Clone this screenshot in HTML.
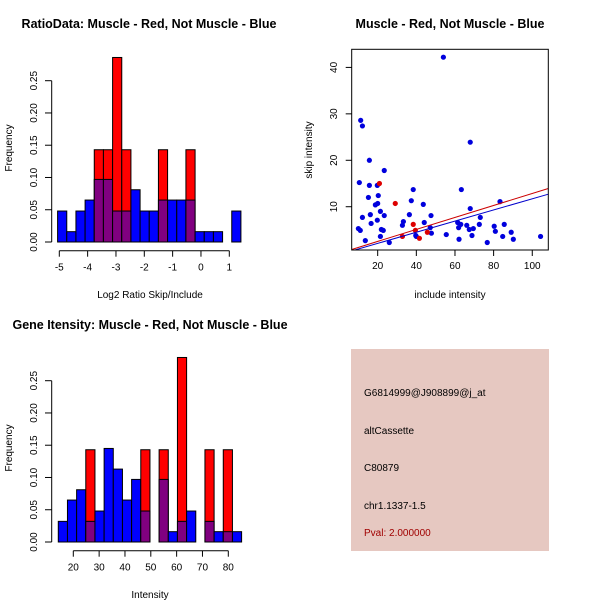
<!DOCTYPE html>
<html><head><meta charset="utf-8"><style>
body{margin:0;background:#fff}
svg{display:block;font-family:"Liberation Sans",sans-serif}
</style></head><body>
<svg id="s" width="600" height="600" viewBox="0 0 600 600">
<rect x="0" y="0" width="600" height="600" fill="#fff"/>
<text x="149" y="28" font-size="12.5" font-weight="bold" text-anchor="middle">RatioData: Muscle - Red, Not Muscle - Blue</text>
<text x="450" y="28" font-size="12.5" font-weight="bold" text-anchor="middle">Muscle - Red, Not Muscle - Blue</text>
<text x="150" y="329" font-size="12.5" font-weight="bold" text-anchor="middle">Gene Itensity: Muscle - Red, Not Muscle - Blue</text>
<text x="150" y="298" font-size="10" text-anchor="middle">Log2 Ratio Skip/Include</text>
<text x="150" y="598" font-size="10" text-anchor="middle">Intensity</text>
<text x="450" y="298" font-size="10" text-anchor="middle">include intensity</text>
<text transform="translate(12,148) rotate(-90)" font-size="10" text-anchor="middle">Frequency</text>
<text transform="translate(12,448) rotate(-90)" font-size="10" text-anchor="middle">Frequency</text>
<text transform="translate(312,150) rotate(-90)" font-size="10" text-anchor="middle">skip intensity</text>
<g>
<rect x="351" y="349" width="198" height="202" fill="#e6c8c1"/>
<text x="364" y="396" font-size="10">G6814999@J908899@j_at</text>
<text x="364" y="434" font-size="10">altCassette</text>
<text x="364" y="471" font-size="10">C80879</text>
<text x="364" y="509" font-size="10">chr1.1337-1.5</text>
<text x="364" y="536" font-size="10" fill="#a00000">Pval: 2.000000</text>
</g>
</svg>
<script>
// ---- data ----
const ratioBinStart = -5.06, ratioBinWidth = 0.3235;
const ratioBlue = [0.048,0.016,0.048,0.065,0.097,0.097,0.048,0.048,0.081,0.048,0.048,0.065,0.065,0.065,0.065,0.016,0.016,0.016,0,0.048];
const ratioRed  = [0,0,0,0,0.143,0.143,0.286,0.143,0,0,0,0.143,0,0,0.143,0,0,0,0,0];
const ratioXTicks = [-5,-4,-3,-2,-1,0,1];
const intBinStart = 14.19, intBinWidth = 3.548;
const intBlue = [0.032,0.065,0.081,0.032,0.048,0.145,0.113,0.065,0.097,0.048,0,0.097,0.016,0.032,0.048,0,0.032,0.016,0.016,0.016];
const intRed  = [0,0,0,0.143,0,0,0,0,0,0.143,0,0.143,0,0.286,0,0,0.143,0,0.143,0];
const intXTicks = [20,30,40,50,60,70,80];
const freqTicks = ["0.00","0.05","0.10","0.15","0.20","0.25"];
const blueX = [54,11.2,12.1,67.9,15.7,23.4,10.5,15.7,19.8,20.3,15.2,38.4,63.3,18.8,20,43.6,37.4,83.3,67.9,21.4,16.2,23.4,36.4,47.6,12.1,73.1,19.8,16.6,33.3,44.1,32.8,61.4,63,61.9,72.6,66.1,85.5,80.3,10,11,21.9,22.9,67.4,69.5,47.2,80.9,89.1,47.8,55.5,21.4,39.7,68.8,84.7,104.3,40,13.6,62.1,90.2,26,76.7];
const blueY = [42.2,28.6,27.4,23.9,20,17.8,15.2,14.6,14.6,12.4,12,13.7,13.7,10.4,10.7,10.5,11.3,11.1,9.6,9,8.3,8.1,8.3,8.1,7.7,7.7,7.1,6.4,6.8,6.6,6,6.6,6.2,5.5,6.2,6,6.2,5.8,5.3,4.9,5.1,4.9,5.1,5.3,5.5,4.7,4.5,4.3,4,3.6,3.8,3.8,3.6,3.6,3.6,2.7,3,3,2.3,2.3];
const redX = [20.9,29.1,38.4,39.5,32.8,45.7,41.6];
const redY = [15,10.7,6.2,4.9,3.6,4.5,3.2];
const blueFit = [0.12,-0.3];   // slope, intercept
const redFit = [0.129,-0.05];
const scatXTicks = [20,40,60,80,100];
const scatYTicks = [10,20,30,40];

const NS="http://www.w3.org/2000/svg", svg=document.getElementById('s');
function mk(tag,attrs){const e=document.createElementNS(NS,tag);for(const k in attrs)e.setAttribute(k,attrs[k]);svg.appendChild(e);return e;}

function hist(oy, start, w, blue, red, xticks, x0px, x1px, v0, v1, nameP){
  const sx=v=>x0px+(v-v0)*(x1px-x0px)/(v1-v0);
  const sy=f=>oy+242-f*(161.3/0.25);
  for(let i=0;i<blue.length;i++){
    const a=sx(start+i*w), b=sx(start+(i+1)*w);
    const hi=Math.max(blue[i],red[i]), lo=Math.min(blue[i],red[i]);
    if(hi<=0) continue;
    const col = red[i]>blue[i] ? '#ff0000' : '#0000ff';
    let r=mk('rect',{x:a,y:sy(hi),width:b-a,height:sy(0)-sy(hi),fill:col,stroke:'#000','stroke-width':1});
    
    
    if(lo>0 && red[i]>0){
      let p=mk('rect',{x:a,y:sy(lo),width:b-a,height:sy(0)-sy(lo),fill:'#800080',stroke:'#000','stroke-width':1});
      
      
    }
  }
  mk('line',{x1:51.7,x2:51.7,y1:sy(0),y2:sy(0.25),stroke:'#000'});
  freqTicks.forEach((t,i)=>{const y=sy(+t);
    mk('line',{x1:45,x2:51.7,y1:y,y2:y,stroke:'#000'});
    const tx=mk('text',{transform:`translate(37,${y}) rotate(-90)`,'font-size':10,'text-anchor':'middle'});tx.textContent=t;
    
    
  });
  const ay=oy+250.7;
  mk('line',{x1:sx(xticks[0]),x2:sx(xticks[xticks.length-1]),y1:ay,y2:ay,stroke:'#000'});
  xticks.forEach(t=>{const x=sx(t);
    mk('line',{x1:x,x2:x,y1:ay,y2:ay+6,stroke:'#000'});
    const tx=mk('text',{x:x,y:ay+20,'font-size':10,'text-anchor':'middle'});tx.textContent=t;
    
    
  });
}
hist(0,ratioBinStart,ratioBinWidth,ratioBlue,ratioRed,ratioXTicks,59.3,229.3,-5,1,'ratio');
hist(300,intBinStart,intBinWidth,intBlue,intRed,intXTicks,73.3,228.3,20,80,'intensity');

// scatter
const L=351.7,R=548.3,T=49.3,B=250, xv0=6.55,xv1=108.3,yv0=0.68,yv1=43.9;
const sx=v=>L+(v-xv0)*(R-L)/(xv1-xv0), sy=v=>B-(v-yv0)*(B-T)/(yv1-yv0);
const clip=mk('clipPath',{id:'pc'});const cr=document.createElementNS(NS,'rect');
cr.setAttribute('x',L);cr.setAttribute('y',T);cr.setAttribute('width',R-L);cr.setAttribute('height',B-T);clip.appendChild(cr);
blueX.forEach((x,i)=>{const c=mk('circle',{cx:sx(x),cy:sy(blueY[i]),r:2.6,fill:'#0000dd'});
  
  });
redX.forEach((x,i)=>{const c=mk('circle',{cx:sx(x),cy:sy(redY[i]),r:2.6,fill:'#dd0000'});
  
  });
[[redFit,'#cc0000','muscle-fit-line'],[blueFit,'#0000cc','not-muscle-fit-line']].forEach(([f,c,n])=>{
  const l=mk('line',{x1:sx(xv0),y1:sy(f[0]*xv0+f[1]),x2:sx(xv1),y2:sy(f[0]*xv1+f[1]),stroke:c,'stroke-width':1,'clip-path':'url(#pc)'});
  
  
});
const box=mk('rect',{x:L,y:T,width:R-L,height:B-T,fill:'none',stroke:'#000'});


scatXTicks.forEach(t=>{const x=sx(t);mk('line',{x1:x,x2:x,y1:B,y2:B+6,stroke:'#000'});
  const tx=mk('text',{x:x,y:B+19,'font-size':10,'text-anchor':'middle'});tx.textContent=t;
  
  });
scatYTicks.forEach(t=>{const y=sy(t);mk('line',{x1:L-6,x2:L,y1:y,y2:y,stroke:'#000'});
  const tx=mk('text',{transform:`translate(337,${y}) rotate(-90)`,'font-size':10,'text-anchor':'middle'});tx.textContent=t;
  
  });
</script>
</body></html>
